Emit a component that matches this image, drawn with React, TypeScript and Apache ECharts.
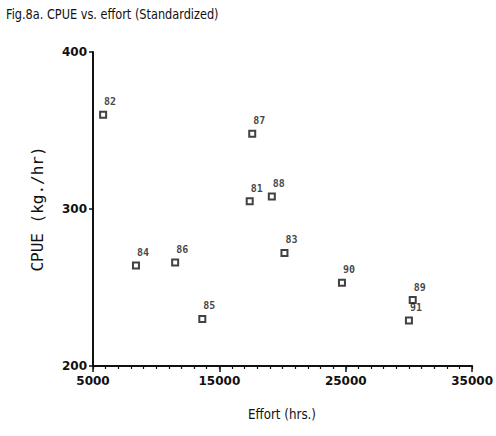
import React, { useEffect, useRef } from "react";
import * as echarts from "echarts";

const years = ["81", "82", "83", "84", "85", "86", "87", "88", "89", "90", "91"];
const effort = [17400, 5800, 20150, 8400, 13650, 11500, 17600, 19150, 30300, 24700, 30000];
const cpue = [305, 360, 272, 264, 230, 266, 348, 308, 242, 253, 229];
const xTickLabels = [5000, 15000, 25000, 35000];
const yTickLabels = [200, 300, 400];
const titleText = "Fig.8a. CPUE vs. effort (Standardized)";
const xName = "Effort (hrs.)";
const yName = "CPUE (kg./hr)";

const sans = '"DejaVu Sans", sans-serif';

export default function App() {
  const ref = useRef<HTMLDivElement>(null);
  useEffect(() => {
    document.body.style.margin = "0";
    const chart = echarts.init(ref.current!, null, { renderer: "svg" });
    const pts = years.map((y, i) => ({ name: y, value: [effort[i], cpue[i]] }));
    chart.setOption({
      animation: false,
      backgroundColor: "#ffffff",
      graphic: [
        {
          type: "text",
          left: 6,
          top: 7,
          scaleX: 0.81,
          style: { text: titleText, font: '14px "DejaVu Sans", sans-serif', fill: "#111" },
        },
        {
          type: "text",
          x: 282,
          y: 414,
          scaleX: 0.85,
          style: {
            text: xName,
            font: '14px "DejaVu Sans", sans-serif',
            fill: "#111",
            align: "center",
            verticalAlign: "middle",
          },
        },
      ],
      grid: { left: 93, top: 52, width: 381, height: 314, containLabel: false },
      xAxis: [
        {
          type: "value",
          min: 5000,
          max: 35000,
          interval: 1000,
          axisLine: { show: true, onZero: false, lineStyle: { color: "#111", width: 2 } },
          axisTick: { show: true, interval: 0, length: 3, lineStyle: { color: "#111", width: 1.2 } },
          axisLabel: {
            interval: 0,
            margin: 9,
            fontFamily: sans,
            fontWeight: "bold",
            fontSize: 12,
            color: "#111",
            formatter: (v: number) => (xTickLabels.indexOf(v) >= 0 ? String(v) : ""),
          },
          splitLine: { show: false },
        },
        {
          type: "value",
          min: 5000,
          max: 35000,
          position: "bottom",
          axisLine: { show: false, onZero: false },
          axisLabel: { show: false },
          axisTick: { show: true, length: 6, customValues: xTickLabels, lineStyle: { color: "#111", width: 1.5 } },
          splitLine: { show: false },
        },
      ],
      yAxis: {
        type: "value",
        min: 200,
        max: 400,
        interval: 100,
        name: yName,
        nameLocation: "middle",
        nameGap: 48,
        nameTextStyle: { fontFamily: '"DejaVu Sans Mono", monospace', fontSize: 16, color: "#111" },
        axisLine: { show: true, onZero: false, lineStyle: { color: "#111", width: 2 } },
        axisTick: { show: true, length: 4, lineStyle: { color: "#111", width: 1.5 } },
        axisLabel: {
          margin: 6,
          fontFamily: sans,
          fontWeight: "bold",
          fontSize: 12,
          color: "#111",
          formatter: (v: number) => (yTickLabels.indexOf(v) >= 0 ? String(v) : ""),
        },
        splitLine: { show: false },
      },
      series: [
        {
          type: "scatter",
          data: pts,
          symbol: "emptyRect",
          symbolSize: 6,
          itemStyle: { color: "#111", borderColor: "#111", borderWidth: 1.5 },
          label: {
            show: true,
            position: "top",
            distance: 4,
            offset: [7, 0],
            formatter: (p: any) => p.name,
            fontFamily: '"DejaVu Sans Mono", monospace',
            fontWeight: "bold",
            fontSize: 10,
            color: "#111",
          },
        },
      ],
    });
    return () => chart.dispose();
  }, []);
  return <div ref={ref} style={{ width: 496, height: 436 }} />;
}
